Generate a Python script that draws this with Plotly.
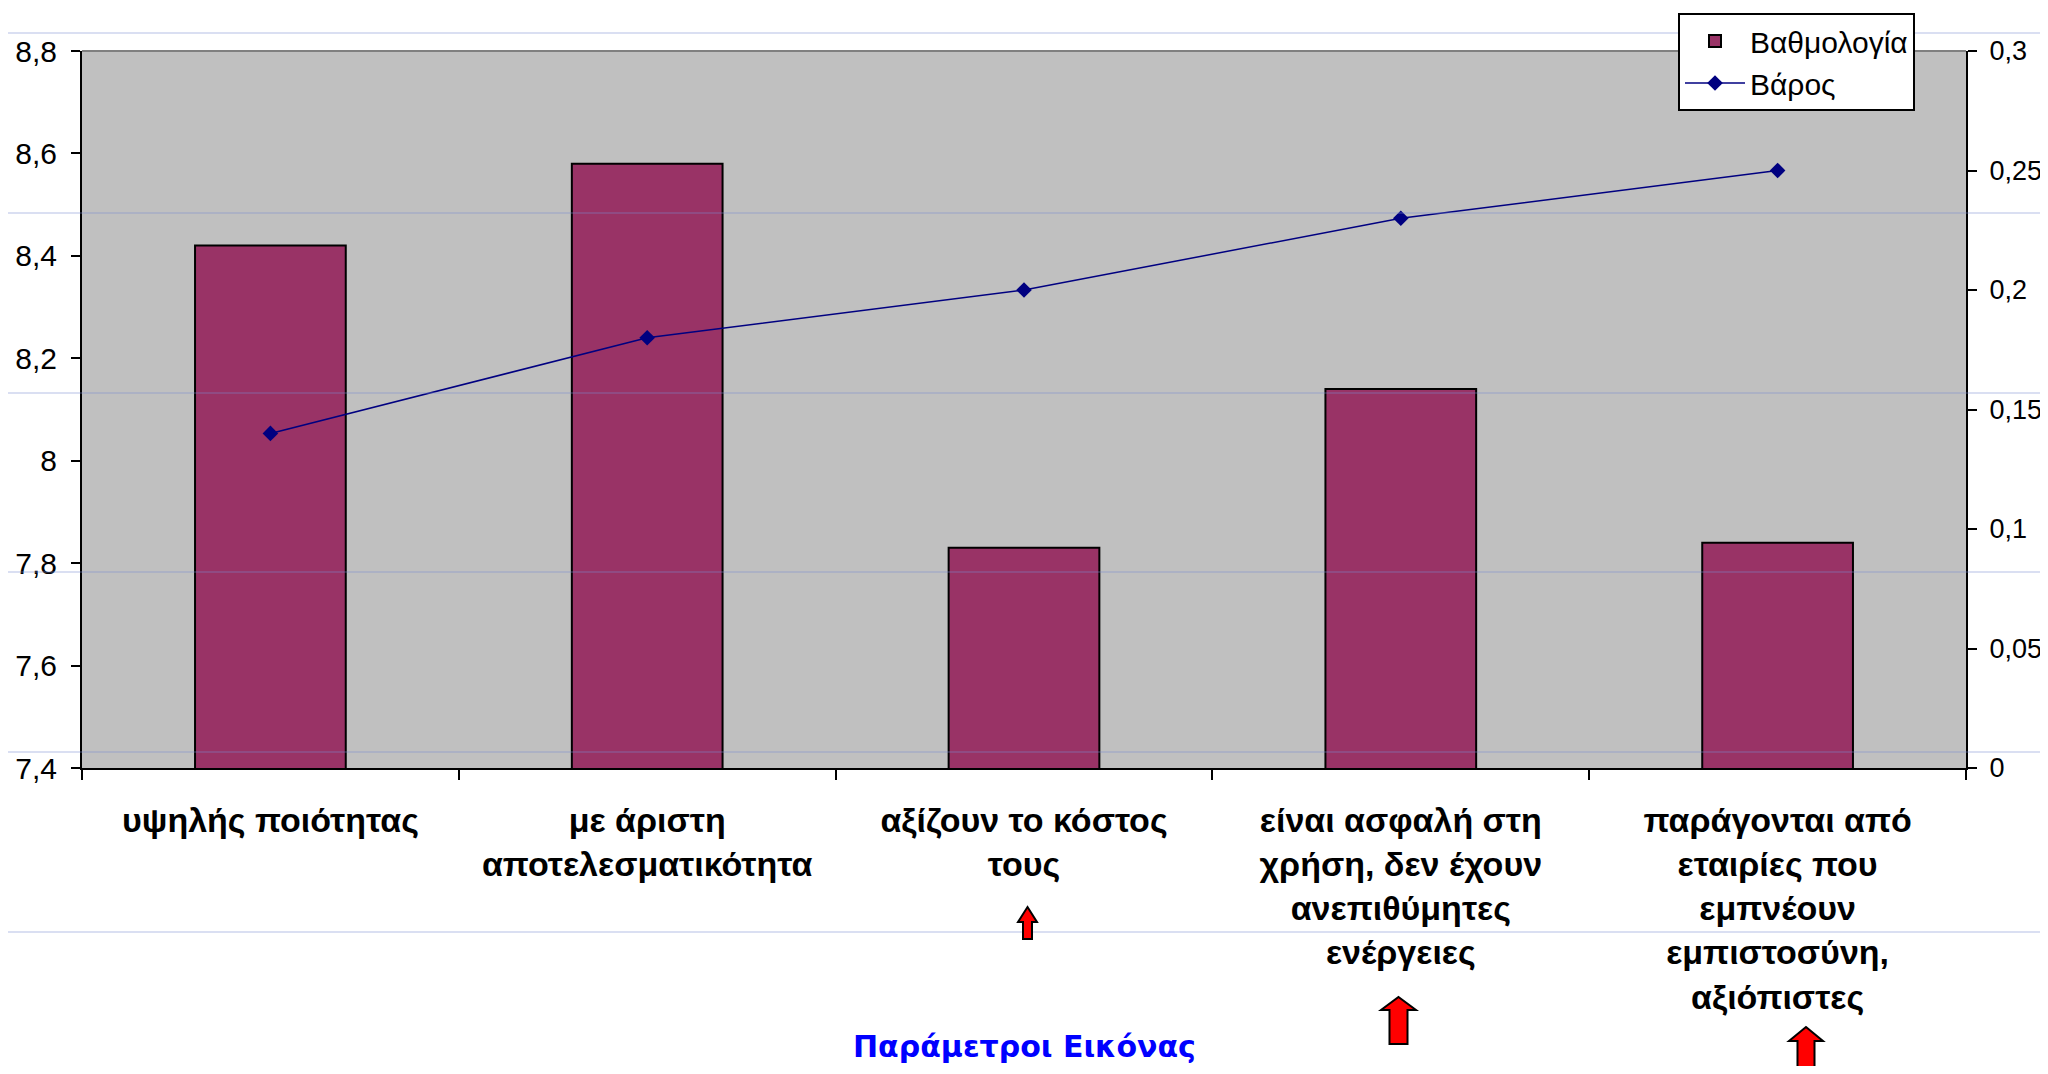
import plotly.graph_objects as go

categories = [
    "υψηλής ποιότητας",
    "με άριστη<br>αποτελεσματικότητα",
    "αξίζουν το κόστος<br>τους",
    "είναι ασφαλή στη<br>χρήση, δεν έχουν<br>ανεπιθύμητες<br>ενέργειες",
    "παράγονται από<br>εταιρίες που<br>εμπνέουν<br>εμπιστοσύνη,<br>αξιόπιστες",
]
scores = [8.42, 8.58, 7.83, 8.14, 7.84]      # Βαθμολογία (left axis)
weights = [0.14, 0.18, 0.20, 0.23, 0.25]     # Βάρος (right axis)
left_ticks = [7.4, 7.6, 7.8, 8.0, 8.2, 8.4, 8.6, 8.8]
right_ticks = [0, 0.05, 0.1, 0.15, 0.2, 0.25, 0.3]

# page body has an 8px margin; figure is sized so the page needs no scrollbars
OFF = 8
W, H = 2048 - OFF, 1074 - 2 * OFF
PL, PR, PT, PB = 82, 1966, 51, 768           # plot area in window pixels
ML, MR, MT = PL - OFF, 2048 - PR, PT - OFF
MB = H - (PB - OFF)
PW, PH = PR - PL, PB - PT


def px(x):
    return (x - PL) / PW


def py(y):
    return (PB - y) / PH


fig = go.Figure()
fig.add_trace(go.Bar(
    x=categories, y=scores, name="Βαθμολογία",
    marker=dict(color="#993366", line=dict(color="#000000", width=2)),
    yaxis="y", legendgroup="a",
))
fig.add_trace(go.Scatter(
    x=categories, y=weights, name="Βάρος", mode="lines+markers",
    line=dict(color="#000080", width=1.5),
    marker=dict(symbol="diamond", size=12, color="#000080"),
    yaxis="y2", legendgroup="b",
))

shapes = []
# pale guide lines of the slide
for yy in [33, 213, 393, 572, 752, 932]:
    shapes.append(dict(type="line", xref="paper", yref="paper",
                       x0=px(0), x1=px(2048), y0=py(yy), y1=py(yy),
                       line=dict(color="rgba(120,140,210,0.55)", width=1),
                       layer="above"))
# top border of plot area
shapes.append(dict(type="line", xref="paper", yref="paper", x0=0, x1=1, y0=1, y1=1,
                   line=dict(color="#808080", width=2), layer="below"))


def arrow(cx, tip, base, bottom, hw, sw):
    pts = [(cx, tip), (cx + hw, base), (cx + sw, base), (cx + sw, bottom),
           (cx - sw, bottom), (cx - sw, base), (cx - hw, base)]
    d = "M " + " L ".join(f"{px(a):.5f},{py(b):.5f}" for a, b in pts) + " Z"
    return dict(type="path", xref="paper", yref="paper", path=d,
                fillcolor="#ff0000", line=dict(color="#000000", width=2), layer="above")


shapes.append(arrow(1027.5, 907, 922, 939, 9.5, 4.5))
shapes.append(arrow(1398.5, 997, 1010, 1044, 17.5, 9))
shapes.append(arrow(1806, 1027, 1041, 1085, 17, 8.5))

fig.update_layout(
    width=W, height=H,
    margin=dict(l=ML, r=MR, t=MT, b=MB, pad=0, autoexpand=False),
    paper_bgcolor="#ffffff",
    plot_bgcolor="#c0c0c0",
    separators=", ",
    bargap=0.6,
    font=dict(family="Liberation Sans, Arial, sans-serif", color="#000000"),
    xaxis=dict(
        showgrid=False, showline=True, linecolor="#000000", linewidth=2,
        ticks="outside", ticklen=10, tickwidth=2, tickcolor="#000000",
        tickson="boundaries", ticklabelstandoff=21, tickangle=0, automargin=False,
        tickfont=dict(size=34, family="Liberation Sans, Arial, sans-serif", weight="bold"),
    ),
    yaxis=dict(
        range=[7.4, 8.8], tickvals=left_ticks, showgrid=False, zeroline=False,
        showline=True, linecolor="#000000", linewidth=2, automargin=False,
        ticks="outside", ticklen=9, tickwidth=2, tickcolor="#000000",
        tickfont=dict(size=30), ticklabelstandoff=8,
    ),
    yaxis2=dict(
        range=[0, 0.3], tickvals=right_ticks, overlaying="y", side="right",
        showgrid=False, zeroline=False, automargin=False,
        showline=True, linecolor="#000000", linewidth=2,
        ticks="outside", ticklen=9, tickwidth=2, tickcolor="#000000",
        tickfont=dict(size=27), ticklabelstandoff=7,
    ),
    legend=dict(
        x=px(1678), y=py(13), xanchor="left", yanchor="top",
        bgcolor="#ffffff", bordercolor="#000000", borderwidth=2,
        font=dict(size=30), traceorder="normal", tracegroupgap=7,
        itemwidth=60,
    ),
    shapes=shapes,
    annotations=[dict(
        text="<b>Παράμετροι Εικόνας</b>", xref="paper", yref="paper",
        x=px(1024), y=py(1046), xanchor="center", yanchor="middle",
        showarrow=False, font=dict(size=30, color="#0000ff", family="DejaVu Sans, sans-serif"),
    )],
    showlegend=True,
)

fig.write_html("out.html")
